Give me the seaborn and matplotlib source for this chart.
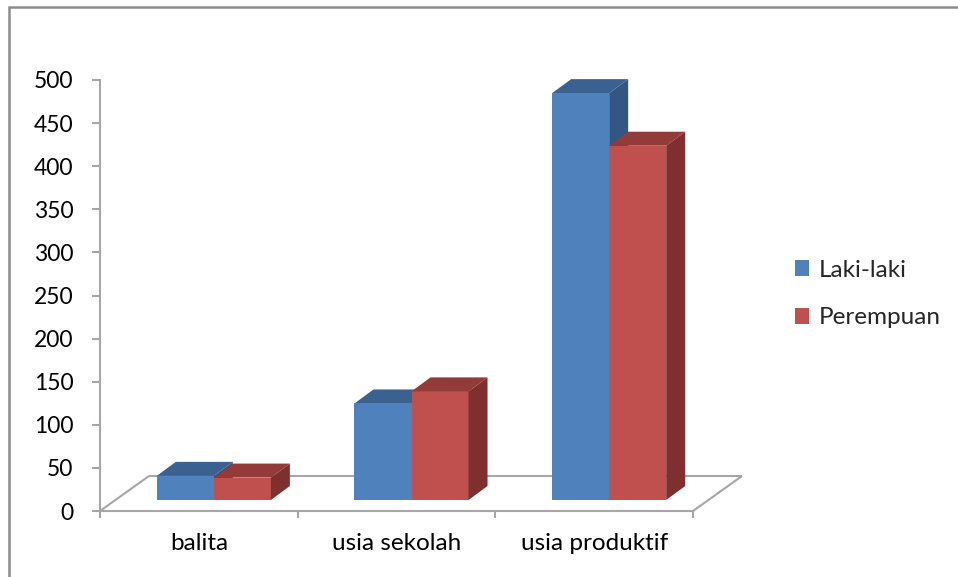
import matplotlib
matplotlib.use("Agg")
import matplotlib.pyplot as plt
import matplotlib.transforms as mtransforms
from matplotlib.patches import Polygon, Patch, Rectangle
import seaborn as sns
import pandas as pd

categories = ["balita", "usia sekolah", "usia produktif"]
series = ["Laki-laki", "Perempuan"]
laki_laki = [28, 112, 472]
perempuan = [26, 126, 411]
y_ticks = [0, 50, 100, 150, 200, 250, 300, 350, 400, 450, 500]

front_colors = ["#4F81BD", "#C0504D"]
top_colors = ["#3A6190", "#923B39"]
side_colors = ["#335683", "#7E2F2E"]
axis_gray = "#A6A6A6"

df = pd.DataFrame({
    "kategori": categories * 2,
    "jenis": [series[0]] * 3 + [series[1]] * 3,
    "jumlah": laki_laki + perempuan,
})

sns.set_theme(style="white")
plt.rcParams["font.family"] = ["Lato", "DejaVu Sans"]

W, H = 958, 577
fig = plt.figure(figsize=(W / 100, H / 100), dpi=100)
ax_left, ax_right, ax_bottom, ax_top = 100, 693, 511, 80
ax = fig.add_axes([ax_left / W, (H - ax_bottom) / H,
                   (ax_right - ax_left) / W, (ax_bottom - ax_top) / H])

sns.barplot(data=df, x="kategori", y="jumlah", hue="jenis",
            palette=front_colors, saturation=1, width=0.577,
            errorbar=None, legend=False, ax=ax)
ax.set_xlim(-0.5, 2.5)
ax.set_ylim(0, 500)

px_x = (ax_right - ax_left) / 3.0       # pixels per category unit
px_y = (ax_bottom - ax_top) / 500.0     # pixels per value unit

# offset of bar front plane from the axis plane
shift = mtransforms.offset_copy(ax.transData, fig=fig, x=15, y=11, units="dots")
# bar depth in data units
sdx, sdy = 19 / px_x, 14 / px_y

for si, cont in enumerate(ax.containers):
    for bar in cont:
        x0, w, h = bar.get_x(), bar.get_width(), bar.get_height()
        z = 3 + 2 * si
        bar.set_transform(shift)
        bar.set_zorder(z)
        bar.set_edgecolor("none")
        top = Polygon([(x0, h), (x0 + w, h), (x0 + w + sdx, h + sdy), (x0 + sdx, h + sdy)],
                      closed=True, facecolor=top_colors[si], edgecolor="none",
                      transform=shift, zorder=z - 0.5 if si == 0 else z, clip_on=False)
        side = Polygon([(x0 + w, 0), (x0 + w + sdx, sdy), (x0 + w + sdx, h + sdy), (x0 + w, h)],
                       closed=True, facecolor=side_colors[si], edgecolor="none",
                       transform=shift, zorder=z - 0.5 if si == 0 else z, clip_on=False)
        ax.add_patch(top)
        ax.add_patch(side)
        bar.set_clip_on(False)

# floor
fdx, fdy = 49 / px_x, 35 / px_y
x_lo, x_hi = ax.get_xlim()
floor_kw = dict(color=axis_gray, lw=1.5, zorder=1, clip_on=False, solid_capstyle="butt")
ax.plot([x_lo + fdx, x_hi + fdx], [fdy, fdy], **floor_kw)
ax.plot([x_lo, x_lo + fdx], [0, fdy], **floor_kw)
ax.plot([x_hi, x_hi + fdx], [0, fdy], **floor_kw)

# axes styling
for s in ["top", "right"]:
    ax.spines[s].set_visible(False)
for s in ["left", "bottom"]:
    ax.spines[s].set_color(axis_gray)
    ax.spines[s].set_linewidth(1.5)
ax.set_yticks(y_ticks)
ax.set_yticklabels([str(v) for v in y_ticks])
ax.set_xticks([-0.5, 0.5, 1.5, 2.5], minor=False)
ax.set_xticklabels([])
ax.set_xticks([0, 1, 2], minor=True)
ax.set_xticklabels(categories, minor=True)
ax.tick_params(axis="y", direction="out", length=6, width=1.5, color=axis_gray,
               pad=13, labelsize=16.5, labelcolor="black", left=True)
ax.tick_params(axis="x", which="major", direction="out", length=5, width=1.5,
               color=axis_gray, bottom=True)
ax.tick_params(axis="x", which="minor", length=0, pad=16, labelsize=17.5,
               labelcolor="black")
ax.set_xlabel("")
ax.set_ylabel("")
ax.grid(False)

# legend
handles = [Patch(facecolor=front_colors[0], edgecolor="none", label=series[0]),
           Patch(facecolor=front_colors[1], edgecolor="none", label=series[1])]
fig.legend(handles=handles, loc="center left", bbox_to_anchor=(773 / W, 1 - 294 / H),
           frameon=False, fontsize=17.5, handlelength=0.6, handleheight=0.6,
           handletextpad=0.4, labelspacing=1.1)

# outer chart border
fig.add_artist(Rectangle((9 / W, -0.05), 1.2, 1 - 7 / H + 0.05, transform=fig.transFigure,
                         fill=False, edgecolor="#8C8C8C", lw=1.8, zorder=0))

fig.savefig("out.png", dpi=100, facecolor="white")
